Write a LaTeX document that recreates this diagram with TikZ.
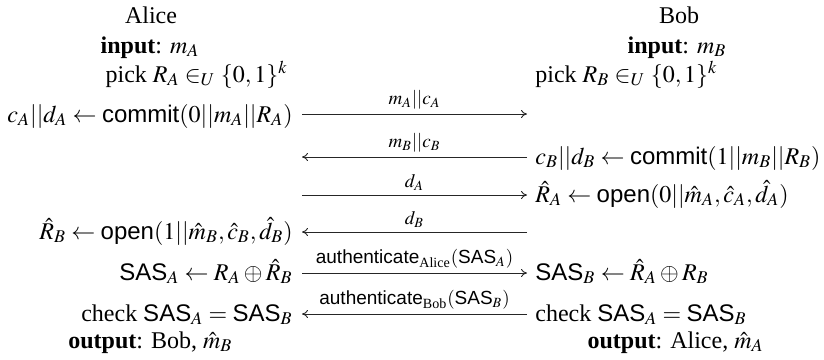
\documentclass[tikz,border=0pt]{standalone}
\usepackage{amsmath}
\usepackage{mathptmx}
\usepackage[no-math]{fontspec}
\setmainfont{Liberation Serif}
\setsansfont{Liberation Sans}
\usetikzlibrary{arrows.meta}
\newcommand{\sfm}[1]{\textsf{#1}}
\tikzset{
  txt/.style={inner sep=0pt, font=\fontsize{12}{14}\selectfont},
  lft/.style={txt, anchor=base east},
  rgt/.style={txt, anchor=base west},
  ctr/.style={txt, anchor=base},
  msg/.style={draw=black!85, line width=0.45pt, -{To[length=3pt,width=4pt]}},
  lbl/.style={inner sep=0pt, font=\fontsize{9.5}{11}\selectfont},
}
\begin{document}
\begin{tikzpicture}[x=0.5pt,y=-0.5pt]
\useasboundingbox (0,0) rectangle (824,359);
% Alice column
\node[ctr] (alice) at (151,23) {Alice};
\node[ctr] (inA) at (150,53) {\textbf{input}: $m_A$};
\node[lft] (pickA) at (288,82) {pick $R_A \in_U \{0,1\}^k$};
\node[lft] (comA) at (293,122) {$c_A||d_A \leftarrow \sfm{commit}(0||m_A||R_A)$};
\node[lft] (openB) at (293,239) {$\hat{R}_B \leftarrow \sfm{open}(1||\hat{m}_B,\hat{c}_B,\hat{d}_B)$};
\node[lft] (sasA) at (293,280) {$\sfm{SAS}_A \leftarrow R_A \oplus \hat{R}_B$};
\node[lft] (chkA) at (293,321) {check $\sfm{SAS}_A = \sfm{SAS}_B$};
\node[rgt] (outA) at (68,348) {\textbf{output}: Bob, $\hat{m}_B$};
% Bob column
\node[ctr] (bob) at (679,23) {Bob};
\node[ctr] (inB) at (677,53) {\textbf{input}: $m_B$};
\node[rgt] (pickB) at (535,82) {pick $R_B \in_U \{0,1\}^k$};
\node[rgt] (comB) at (535,164) {$c_B||d_B \leftarrow \sfm{commit}(1||m_B||R_B)$};
\node[rgt] (openA) at (535,202) {$\hat{R}_A \leftarrow \sfm{open}(0||\hat{m}_A,\hat{c}_A,\hat{d}_A)$};
\node[rgt] (sasB) at (535,280) {$\sfm{SAS}_B \leftarrow \hat{R}_A \oplus R_B$};
\node[rgt] (chkB) at (535,321) {check $\sfm{SAS}_A = \sfm{SAS}_B$};
\node[lft] (outB) at (764,348) {\textbf{output}: Alice, $\hat{m}_A$};
% arrow end points
\foreach \i/\y in {1/114,2/157,3/195,4/232,5/273,6/314}{
  \coordinate (L\i) at (302,\y);
  \coordinate (R\i) at (527,\y);
}
\draw[msg] (L1) -- node[lbl,above=2pt] {$m_A||c_A$} (R1);
\draw[msg] (R2) -- node[lbl,above=2pt] {$m_B||c_B$} (L2);
\draw[msg] (L3) -- node[lbl,above=2pt] {$d_A$} (R3);
\draw[msg] (R4) -- node[lbl,above=2pt] {$d_B$} (L4);
\draw[msg] (L5) -- node[lbl,above=2pt] {$\sfm{authenticate}_{\text{Alice}}(\sfm{SAS}_A)$} (R5);
\draw[msg] (R6) -- node[lbl,above=2pt] {$\sfm{authenticate}_{\text{Bob}}(\sfm{SAS}_B)$} (L6);
\end{tikzpicture}
\end{document}
